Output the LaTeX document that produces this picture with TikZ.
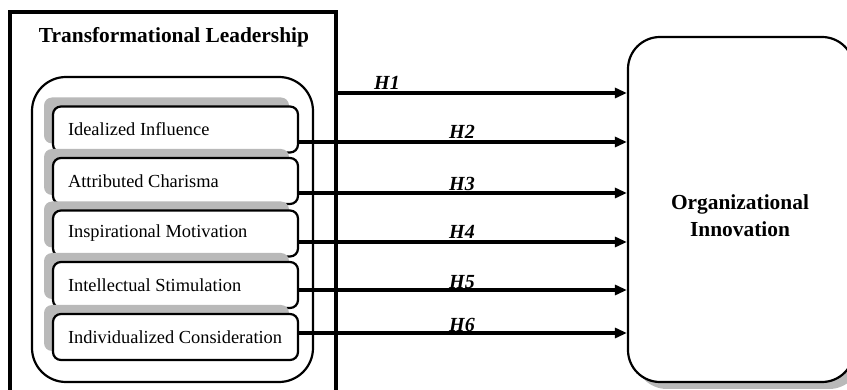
\documentclass[tikz,border=0pt]{standalone}
\usepackage{fontspec}
\setmainfont{Liberation Serif}
\usetikzlibrary{arrows.meta,shadows}
\begin{document}
\begin{tikzpicture}[x=1pt,y=-1pt,
  subbox/.style={draw, line width=2.2pt, rounded corners=8pt, minimum height=46pt, inner xsep=15pt, inner ysep=0pt,
    fill=white, font=\fontsize{18.4}{22}\selectfont,
    drop shadow={shadow xshift=-9pt, shadow yshift=9pt, fill=gray!55, opacity=1}},
  arr/.style={line width=3.2pt, -{Triangle[length=12pt,width=10pt]}},
  hlab/.style={inner sep=0pt, font=\fontsize{20}{24}\selectfont\bfseries\itshape}]
\useasboundingbox (0,0) rectangle (847,390);
\clip (0,0) rectangle (847,390);
% outer frame
\node[draw, line width=3.4pt, minimum width=326pt, minimum height=390pt, inner sep=0pt] (outer) at (173,207) {};
\node[anchor=base, inner sep=0pt, font=\fontsize{21.4}{26}\selectfont\bfseries] (title) at (174,43) {Transformational Leadership};
% group container
\node[draw, line width=2.2pt, rounded corners=34pt, minimum width=281pt, minimum height=305pt, inner sep=0pt] (grp) at (172.5,229.5) {};
% dimension boxes
\node[subbox] (b1) at (175.5,129.5) {\makebox[215pt][l]{Idealized Influence}};
\node[subbox] (b2) at (175.5,181) {\makebox[215pt][l]{Attributed Charisma}};
\node[subbox] (b3) at (175.5,233.5) {\makebox[215pt][l]{Inspirational Motivation}};
\node[subbox] (b4) at (175.5,285) {\makebox[215pt][l]{Intellectual Stimulation}};
\node[subbox] (b5) at (175.5,337) {\makebox[215pt][l]{Individualized Consideration}};
% outcome box
\node[draw, line width=2.2pt, rounded corners=32pt, minimum width=226pt, minimum height=345pt, inner sep=0pt, fill=white,
  drop shadow={shadow xshift=7pt, shadow yshift=-7pt, fill=gray!55, opacity=1}] (oi) at (741,209.5) {};
\node[align=center, inner sep=0pt, font=\fontsize{21.4}{27}\selectfont\bfseries] (oitxt) at (740,216) {Organizational\\Innovation};
% arrows
\draw[arr] (outer.east |- 0,93) -- (oi.west |- 0,93);
\draw[arr] (b1.east |- 0,142) -- (oi.west |- 0,142);
\draw[arr] (b2.east |- 0,193) -- (oi.west |- 0,193);
\draw[arr] (b3.east |- 0,242) -- (oi.west |- 0,242);
\draw[arr] (b4.east |- 0,290) -- (oi.west |- 0,290);
\draw[arr] (b5.east |- 0,333) -- (oi.west |- 0,333);
% labels
\node[hlab] (h1) at (387,82.5) {H1};
\node[hlab] (h2) at (462,131.5) {H2};
\node[hlab] (h3) at (462,184) {H3};
\node[hlab] (h4) at (462,232) {H4};
\node[hlab] (h5) at (462,282.5) {H5};
\node[hlab] (h6) at (462,325) {H6};
\end{tikzpicture}
\end{document}
